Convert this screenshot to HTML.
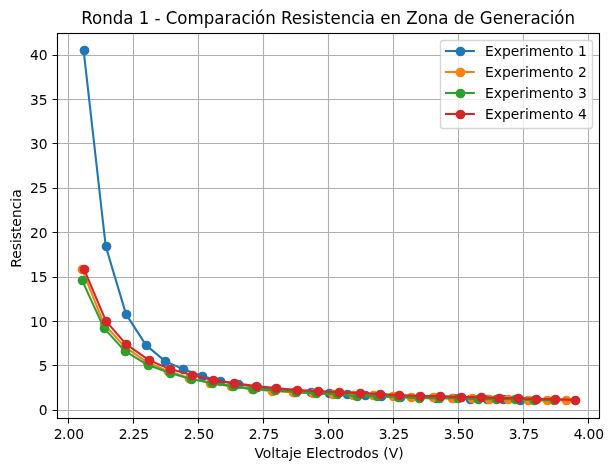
<!DOCTYPE html>
<html lang="es"><head><meta charset="utf-8"><title>Ronda 1 - Comparación Resistencia en Zona de Generación</title>
<style>html,body{margin:0;padding:0;background:#fff}body{width:613px;height:471px;overflow:hidden}svg text{white-space:pre}</style>
</head><body>
<svg width="613" height="471" viewBox="0 0 613 471" style="display:block">
<rect width="613" height="471" fill="#fff"/>
<clipPath id="ax"><rect x="56.9" y="32.9" width="543.2" height="386.2"/></clipPath>
<g clip-path="url(#ax)">
<path d="M68.5 33.5V418.5M133.5 33.5V418.5M198.5 33.5V418.5M263.5 33.5V418.5M328.5 33.5V418.5M393.5 33.5V418.5M458.5 33.5V418.5M523.5 33.5V418.5M588.5 33.5V418.5M57.5 410.5H599.5M57.5 365.5H599.5M57.5 321.5H599.5M57.5 277.5H599.5M57.5 232.5H599.5M57.5 188.5H599.5M57.5 143.5H599.5M57.5 99.5H599.5M57.5 55.5H599.5" fill="none" stroke="#b0b0b0" stroke-width="1.111"/>
<polyline points="83.60,50.10 105.70,246.10 126.00,314.10 146.00,345.10 165.00,361.10 183.00,369.10 202.00,376.10 220.00,381.10 238.00,384.10 257.00,387.10 275.00,389.10 294.00,392.10 311.00,392.10 329.00,393.10 347.00,394.10 365.00,395.10 381.00,396.10 400.00,397.10 419.00,397.10 436.00,398.10 453.00,398.10 470.00,399.10 487.00,399.10 503.00,399.10 520.00,400.10" fill="none" stroke="#1f77b4" stroke-width="2.083" stroke-linejoin="round" stroke-linecap="square"/>
<g fill="#1f77b4"><circle cx="84.5" cy="50.5" r="4.86"/><circle cx="106.5" cy="246.5" r="4.86"/><circle cx="126.5" cy="314.5" r="4.86"/><circle cx="146.5" cy="345.5" r="4.86"/><circle cx="165.5" cy="361.5" r="4.86"/><circle cx="183.5" cy="369.5" r="4.86"/><circle cx="202.5" cy="376.5" r="4.86"/><circle cx="220.5" cy="381.5" r="4.86"/><circle cx="238.5" cy="384.5" r="4.86"/><circle cx="257.5" cy="387.5" r="4.86"/><circle cx="275.5" cy="389.5" r="4.86"/><circle cx="294.5" cy="392.5" r="4.86"/><circle cx="311.5" cy="392.5" r="4.86"/><circle cx="329.5" cy="393.5" r="4.86"/><circle cx="347.5" cy="394.5" r="4.86"/><circle cx="365.5" cy="395.5" r="4.86"/><circle cx="381.5" cy="396.5" r="4.86"/><circle cx="400.5" cy="397.5" r="4.86"/><circle cx="419.5" cy="397.5" r="4.86"/><circle cx="436.5" cy="398.5" r="4.86"/><circle cx="453.5" cy="398.5" r="4.86"/><circle cx="470.5" cy="399.5" r="4.86"/><circle cx="487.5" cy="399.5" r="4.86"/><circle cx="503.5" cy="399.5" r="4.86"/><circle cx="520.5" cy="400.5" r="4.86"/></g>
<polyline points="82.00,269.10 104.00,324.10 125.00,347.10 147.00,362.10 168.00,371.10 189.00,378.10 210.00,383.10 231.00,386.10 252.00,389.10 272.00,391.10 293.00,392.10 313.00,393.10 333.00,394.10 353.00,395.10 373.00,395.10 393.00,396.10 411.00,397.10 433.00,397.10 452.00,398.10 472.00,398.10 489.00,399.10 508.00,399.10 528.00,400.10 547.00,400.10 566.00,400.10" fill="none" stroke="#ff7f0e" stroke-width="2.083" stroke-linejoin="round" stroke-linecap="square"/>
<g fill="#ff7f0e"><circle cx="82.5" cy="269.5" r="4.86"/><circle cx="104.5" cy="324.5" r="4.86"/><circle cx="125.5" cy="347.5" r="4.86"/><circle cx="147.5" cy="362.5" r="4.86"/><circle cx="168.5" cy="371.5" r="4.86"/><circle cx="189.5" cy="378.5" r="4.86"/><circle cx="210.5" cy="383.5" r="4.86"/><circle cx="231.5" cy="386.5" r="4.86"/><circle cx="252.5" cy="389.5" r="4.86"/><circle cx="272.5" cy="391.5" r="4.86"/><circle cx="293.5" cy="392.5" r="4.86"/><circle cx="313.5" cy="393.5" r="4.86"/><circle cx="333.5" cy="394.5" r="4.86"/><circle cx="353.5" cy="395.5" r="4.86"/><circle cx="373.5" cy="395.5" r="4.86"/><circle cx="393.5" cy="396.5" r="4.86"/><circle cx="411.5" cy="397.5" r="4.86"/><circle cx="433.5" cy="397.5" r="4.86"/><circle cx="452.5" cy="398.5" r="4.86"/><circle cx="472.5" cy="398.5" r="4.86"/><circle cx="489.5" cy="399.5" r="4.86"/><circle cx="508.5" cy="399.5" r="4.86"/><circle cx="528.5" cy="400.5" r="4.86"/><circle cx="547.5" cy="400.5" r="4.86"/><circle cx="566.5" cy="400.5" r="4.86"/></g>
<polyline points="82.00,280.10 104.00,328.10 125.00,351.10 148.00,365.10 170.00,373.10 191.00,379.10 212.00,383.10 233.00,386.10 253.00,389.10 275.00,390.10 296.00,392.10 316.00,393.10 337.00,394.10 357.00,396.10 377.00,396.10 398.00,397.10 419.00,398.10 439.00,398.10 458.00,398.10 478.00,399.10 496.00,399.10 515.00,399.10 534.00,400.10 554.00,400.10" fill="none" stroke="#2ca02c" stroke-width="2.083" stroke-linejoin="round" stroke-linecap="square"/>
<g fill="#2ca02c"><circle cx="82.5" cy="280.5" r="4.86"/><circle cx="104.5" cy="328.5" r="4.86"/><circle cx="125.5" cy="351.5" r="4.86"/><circle cx="148.5" cy="365.5" r="4.86"/><circle cx="170.5" cy="373.5" r="4.86"/><circle cx="191.5" cy="379.5" r="4.86"/><circle cx="212.5" cy="383.5" r="4.86"/><circle cx="233.5" cy="386.5" r="4.86"/><circle cx="253.5" cy="389.5" r="4.86"/><circle cx="275.5" cy="390.5" r="4.86"/><circle cx="296.5" cy="392.5" r="4.86"/><circle cx="316.5" cy="393.5" r="4.86"/><circle cx="337.5" cy="394.5" r="4.86"/><circle cx="357.5" cy="396.5" r="4.86"/><circle cx="377.5" cy="396.5" r="4.86"/><circle cx="398.5" cy="397.5" r="4.86"/><circle cx="419.5" cy="398.5" r="4.86"/><circle cx="439.5" cy="398.5" r="4.86"/><circle cx="458.5" cy="398.5" r="4.86"/><circle cx="478.5" cy="399.5" r="4.86"/><circle cx="496.5" cy="399.5" r="4.86"/><circle cx="515.5" cy="399.5" r="4.86"/><circle cx="534.5" cy="400.5" r="4.86"/><circle cx="554.5" cy="400.5" r="4.86"/></g>
<polyline points="84.00,269.10 106.00,321.10 126.00,344.10 149.00,360.10 170.00,369.10 192.00,375.10 213.00,380.10 234.00,383.10 256.00,386.10 276.00,388.10 297.00,390.10 318.00,391.10 339.00,392.10 360.00,393.10 380.00,394.10 399.00,395.10 420.00,396.10 440.00,396.10 461.00,397.10 481.00,397.10 499.00,398.10 518.00,398.10 536.00,399.10 555.00,399.10 575.00,400.10" fill="none" stroke="#d62728" stroke-width="2.083" stroke-linejoin="round" stroke-linecap="square"/>
<g fill="#d62728"><circle cx="84.5" cy="269.5" r="4.86"/><circle cx="106.5" cy="321.5" r="4.86"/><circle cx="126.5" cy="344.5" r="4.86"/><circle cx="149.5" cy="360.5" r="4.86"/><circle cx="170.5" cy="369.5" r="4.86"/><circle cx="192.5" cy="375.5" r="4.86"/><circle cx="213.5" cy="380.5" r="4.86"/><circle cx="234.5" cy="383.5" r="4.86"/><circle cx="256.5" cy="386.5" r="4.86"/><circle cx="276.5" cy="388.5" r="4.86"/><circle cx="297.5" cy="390.5" r="4.86"/><circle cx="318.5" cy="391.5" r="4.86"/><circle cx="339.5" cy="392.5" r="4.86"/><circle cx="360.5" cy="393.5" r="4.86"/><circle cx="380.5" cy="394.5" r="4.86"/><circle cx="399.5" cy="395.5" r="4.86"/><circle cx="420.5" cy="396.5" r="4.86"/><circle cx="440.5" cy="396.5" r="4.86"/><circle cx="461.5" cy="397.5" r="4.86"/><circle cx="481.5" cy="397.5" r="4.86"/><circle cx="499.5" cy="398.5" r="4.86"/><circle cx="518.5" cy="398.5" r="4.86"/><circle cx="536.5" cy="399.5" r="4.86"/><circle cx="555.5" cy="399.5" r="4.86"/><circle cx="575.5" cy="400.5" r="4.86"/></g>
</g>
<path d="M68.5 419.0V423.5M133.5 419.0V423.5M198.5 419.0V423.5M263.5 419.0V423.5M328.5 419.0V423.5M393.5 419.0V423.5M458.5 419.0V423.5M523.5 419.0V423.5M588.5 419.0V423.5M57.0 410.5H52.5M57.0 365.5H52.5M57.0 321.5H52.5M57.0 277.5H52.5M57.0 232.5H52.5M57.0 188.5H52.5M57.0 143.5H52.5M57.0 99.5H52.5M57.0 55.5H52.5" fill="none" stroke="#000" stroke-width="1.111"/>
<rect x="57.5" y="33.5" width="542.0" height="385.0" fill="none" stroke="#000" stroke-width="1.111"/>
<g style="font-family:'DejaVu Sans','Liberation Sans',sans-serif;font-size:13.889px" fill="#000">
<text x="53.80 62.10 66.44 75.20" y="439">2.00</text>
<text x="118.80 127.10 131.44 140.20" y="439">2.25</text>
<text x="183.80 192.10 196.44 205.20" y="439">2.50</text>
<text x="248.80 257.10 261.44 270.20" y="439">2.75</text>
<text x="313.80 322.10 326.44 335.20" y="439">3.00</text>
<text x="378.80 387.10 391.44 400.20" y="439">3.25</text>
<text x="443.80 452.10 456.44 465.20" y="439">3.50</text>
<text x="508.80 517.10 521.44 530.20" y="439">3.75</text>
<text x="573.80 582.10 586.44 595.20" y="439">4.00</text>
<text x="47.6" y="415" text-anchor="end" textLength="8.75">0</text>
<text x="47.6" y="371" text-anchor="end" textLength="8.75">5</text>
<text x="47.6" y="327" text-anchor="end" textLength="17.55">10</text>
<text x="47.6" y="282" text-anchor="end" textLength="17.55">15</text>
<text x="47.6" y="238" text-anchor="end" textLength="17.55">20</text>
<text x="47.6" y="193" text-anchor="end" textLength="17.55">25</text>
<text x="47.6" y="149" text-anchor="end" textLength="17.55">30</text>
<text x="47.6" y="105" text-anchor="end" textLength="17.55">35</text>
<text x="47.6" y="60" text-anchor="end" textLength="17.55">40</text>
<text x="329" y="458" text-anchor="middle" textLength="149.25">Voltaje Electrodos (V)</text>
<text transform="translate(21 228.6) rotate(-90)" text-anchor="middle" textLength="78.5">Resistencia</text>
</g>
<text transform="translate(328.15 24) scale(1 1.075)" text-anchor="middle" textLength="493.75" style="font-family:'DejaVu Sans','Liberation Sans',sans-serif;font-size:16.667px" fill="#000">Ronda 1 - Comparación Resistencia en Zona de Generación</text>
<rect x="440.5" y="40.5" width="152" height="88" rx="2.78" ry="2.78" fill="#fff" fill-opacity="0.8" stroke="#ccc" stroke-opacity="0.8" stroke-width="1.389"/>
<path d="M446.01 51H473.79" stroke="#1f77b4" stroke-width="2.083" stroke-linecap="square" fill="none"/>
<circle cx="460.5" cy="51.5" r="4.86" fill="#1f77b4"/>
<text x="484.9" y="56" textLength="101.9" style="font-family:'DejaVu Sans','Liberation Sans',sans-serif;font-size:13.889px" fill="#000">Experimento 1</text>
<path d="M446.01 72H473.79" stroke="#ff7f0e" stroke-width="2.083" stroke-linecap="square" fill="none"/>
<circle cx="460.5" cy="72.5" r="4.86" fill="#ff7f0e"/>
<text x="484.9" y="77" textLength="101.9" style="font-family:'DejaVu Sans','Liberation Sans',sans-serif;font-size:13.889px" fill="#000">Experimento 2</text>
<path d="M446.01 93H473.79" stroke="#2ca02c" stroke-width="2.083" stroke-linecap="square" fill="none"/>
<circle cx="460.5" cy="93.5" r="4.86" fill="#2ca02c"/>
<text x="484.9" y="98" textLength="101.9" style="font-family:'DejaVu Sans','Liberation Sans',sans-serif;font-size:13.889px" fill="#000">Experimento 3</text>
<path d="M446.01 114H473.79" stroke="#d62728" stroke-width="2.083" stroke-linecap="square" fill="none"/>
<circle cx="460.5" cy="114.5" r="4.86" fill="#d62728"/>
<text x="484.9" y="119" textLength="101.9" style="font-family:'DejaVu Sans','Liberation Sans',sans-serif;font-size:13.889px" fill="#000">Experimento 4</text>
</svg>
</body></html>
